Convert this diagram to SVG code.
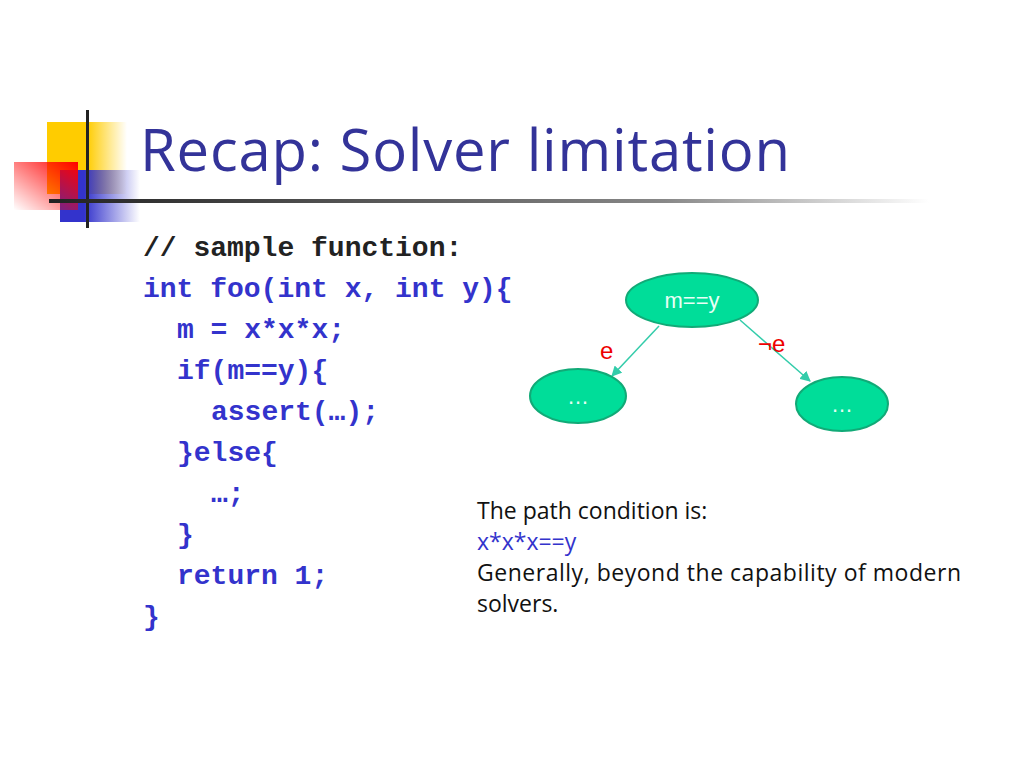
<svg xmlns="http://www.w3.org/2000/svg" width="1024" height="768" viewBox="0 0 1024 768">
<defs>
<linearGradient id="gy" x1="0" x2="1"><stop offset="0.5" stop-color="#ffcc00"/><stop offset="1" stop-color="#ffcc00" stop-opacity="0"/></linearGradient>
<linearGradient id="gb" x1="0" x2="1"><stop offset="0.3" stop-color="#3333cc"/><stop offset="1" stop-color="#3333cc" stop-opacity="0"/></linearGradient>
<linearGradient id="gr" x1="1" y1="0" x2="0" y2="1"><stop offset="0" stop-color="#ff0000"/><stop offset="1" stop-color="#ff0000" stop-opacity="0"/></linearGradient>
<linearGradient id="gl" x1="0" x2="1"><stop offset="0" stop-color="#222"/><stop offset="0.7" stop-color="#888"/><stop offset="1" stop-color="#fff"/></linearGradient>
<marker id="ar" viewBox="0 0 10 10" refX="9" refY="5" markerWidth="7" markerHeight="7" orient="auto"><path d="M0,0L10,5L0,10z" fill="#33ccaa"/></marker>
<style>
.code{font-family:"Liberation Mono",monospace;font-weight:bold;font-size:28px;fill:#3333cc}
.nd{fill:#00dd99;stroke:#11aa77;stroke-width:2}
.nt{font-family:"Liberation Sans",sans-serif;font-size:22px;fill:#e8fff6;text-anchor:middle}
.lb{font-family:"Liberation Sans",sans-serif;font-size:24px;fill:#ee0000}
.tx{font-family:"Open Sans","Liberation Sans",sans-serif;font-size:23px;fill:#111}
</style>
</defs>
<rect x="47" y="122" width="80" height="72" fill="url(#gy)"/>
<rect x="60" y="170" width="80" height="52" fill="url(#gb)"/>
<rect x="14" y="162" width="64" height="48" fill="url(#gr)"/>
<rect x="86" y="110" width="3" height="118" fill="#222"/>
<rect x="49" y="199" width="880" height="4" fill="url(#gl)"/>
<text x="140" y="171" font-family="Open Sans,Liberation Sans,sans-serif" font-size="58" fill="#333399" textLength="650">Recap: Solver limitation</text>
<text class="code" x="143" y="256" style="fill:#222">// sample function:</text>
<text class="code" x="143" y="297">int foo(int x, int y){</text>
<text class="code" x="177" y="338">m = x*x*x;</text>
<text class="code" x="177" y="379">if(m==y){</text>
<text class="code" x="211" y="420">assert(…);</text>
<text class="code" x="177" y="461">}else{</text>
<text class="code" x="211" y="502">…;</text>
<text class="code" x="177" y="543">}</text>
<text class="code" x="177" y="584">return 1;</text>
<text class="code" x="143" y="625">}</text>
<g id="connectors" stroke="#33ccaa" stroke-width="1.5">
<line x1="659" y1="326" x2="612" y2="376" marker-end="url(#ar)"/>
<line x1="740" y1="320" x2="810" y2="381" marker-end="url(#ar)"/>
</g>
<text class="lb" x="600" y="359">e</text>
<text class="lb" x="758" y="352">¬e</text>
<g id="n1"><ellipse class="nd" cx="692" cy="300" rx="66" ry="27"/><text class="nt" x="692" y="308">m==y</text></g>
<g id="n2"><ellipse class="nd" cx="578" cy="396" rx="48" ry="27"/><text class="nt" x="578" y="404">…</text></g>
<g id="n3"><ellipse class="nd" cx="842" cy="404" rx="46" ry="27"/><text class="nt" x="842" y="412">…</text></g>
<text class="tx" x="477" y="519">The path condition is:</text>
<text class="tx" x="477" y="550" style="fill:#3333cc">x*x*x==y</text>
<text class="tx" x="477" y="581" textLength="484">Generally, beyond the capability of modern</text>
<text class="tx" x="477" y="612">solvers.</text>
</svg>
